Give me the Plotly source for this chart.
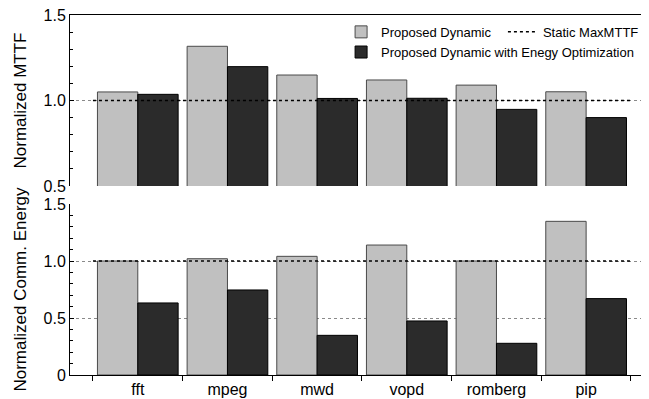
import numpy as np
import plotly.graph_objects as go

categories = ["fft", "mpeg", "mwd", "vopd", "romberg", "pip"]
mttf_dynamic = [1.05, 1.317, 1.149, 1.12, 1.09, 1.051]
mttf_energy_opt = [1.036, 1.198, 1.012, 1.013, 0.948, 0.90]
energy_dynamic = [1.0, 1.02, 1.041, 1.14, 1.0, 1.348]
energy_energy_opt = [0.632, 0.746, 0.348, 0.474, 0.278, 0.67]
static_maxmttf = 1.0
mttf_ticks = [0.5, 1.0, 1.5]
mttf_ticktext = ["0.5", "1.0", "1.5"]
energy_ticks = [0, 0.5, 1.0, 1.5]
energy_ticktext = ["0", "0.5", "1.0", "1.5"]

n = len(categories)
x = np.arange(n)
bounds = np.arange(n + 1) - 0.5
static_x = [bounds[0], bounds[-1]]
x_range = [-0.756, 5.69]

FONT = "Liberation Sans, Arial, Helvetica, sans-serif"
GRAY = "#c0c0c0"
GRAY_LINE = "#4a4a4a"
DARK = "#2b2b2b"

fig = go.Figure()

for xa, ya, dyn, opt, show in [("x2", "y2", mttf_dynamic, mttf_energy_opt, True),
                               ("x", "y", energy_dynamic, energy_energy_opt, False)]:
    fig.add_trace(go.Bar(x=x, y=dyn, name="Proposed Dynamic", xaxis=xa, yaxis=ya,
                         marker=dict(color=GRAY, line=dict(color=GRAY_LINE, width=1)),
                         showlegend=show, legend="legend"))
    fig.add_trace(go.Bar(x=x, y=opt, name="Proposed Dynamic with Enegy Optimization",
                         xaxis=xa, yaxis=ya,
                         marker=dict(color=DARK, line=dict(color="black", width=1)),
                         showlegend=show, legend="legend2"))
    fig.add_trace(go.Scatter(x=static_x, y=[static_maxmttf] * 2, name="Static MaxMTTF",
                             xaxis=xa, yaxis=ya, mode="lines",
                             line=dict(color="black", width=1.5, dash="dot"),
                             showlegend=show, legend="legend3"))

yax_common = dict(
    showline=True, linecolor="black", linewidth=1, automargin=False,
    ticks="inside", ticklen=4, tickcolor="black", ticklabeloverflow="allow",
    minor=dict(dtick=0.1, tick0=0, ticks="inside", ticklen=2.5, tickcolor="black", showgrid=False),
    showgrid=True, gridcolor="#8a8a8a", gridwidth=1, griddash="dot",
    zeroline=False, tickfont=dict(size=16, color="black", family=FONT),
    title_font=dict(size=17, color="black", family=FONT),
)

legend_common = dict(orientation="h", xanchor="left", yanchor="middle",
                     bgcolor="rgba(0,0,0,0)", borderwidth=0,
                     font=dict(size=13, family=FONT, color="black"))

fig.update_layout(
    width=649, height=399,
    margin=dict(l=62, r=9, t=7, b=32),
    plot_bgcolor="white", paper_bgcolor="white",
    font=dict(family=FONT, color="black"),
    barmode="group", bargap=0.1, bargroupgap=0,
    xaxis=dict(domain=[0, 1], anchor="y", range=x_range, autorange=False, automargin=False,
               tickmode="array", tickvals=x, ticktext=categories, ticks="",
               minor=dict(tickmode="array", tickvals=bounds, ticks="outside", ticklen=5,
                          tickcolor="black", showgrid=False),
               showline=True, linecolor="black", linewidth=1, showgrid=False, zeroline=False,
               tickfont=dict(size=16, color="black", family=FONT)),
    xaxis2=dict(domain=[0, 1], anchor="y2", range=x_range, autorange=False, automargin=False,
                side="top", showline=True,
                linecolor="black", linewidth=1, showticklabels=False, ticks="",
                showgrid=False, zeroline=False),
    yaxis=dict(domain=[0, 0.475], anchor="x", range=[0, 1.5], tickmode="array",
               tickvals=energy_ticks, ticktext=energy_ticktext,
               title=dict(text="Normalized Comm. Energy", standoff=12), **yax_common),
    yaxis2=dict(domain=[0.525, 1], anchor="x2", range=[0.5, 1.5], tickmode="array",
                tickvals=mttf_ticks, ticktext=mttf_ticktext,
                title=dict(text="Normalized MTTF", standoff=12), **yax_common),
    legend=dict(x=0.469, y=0.953, **legend_common),
    legend3=dict(x=0.749, y=0.953, **legend_common),
    legend2=dict(x=0.469, y=0.897, **legend_common),
)

fig.write_html("out.html")
